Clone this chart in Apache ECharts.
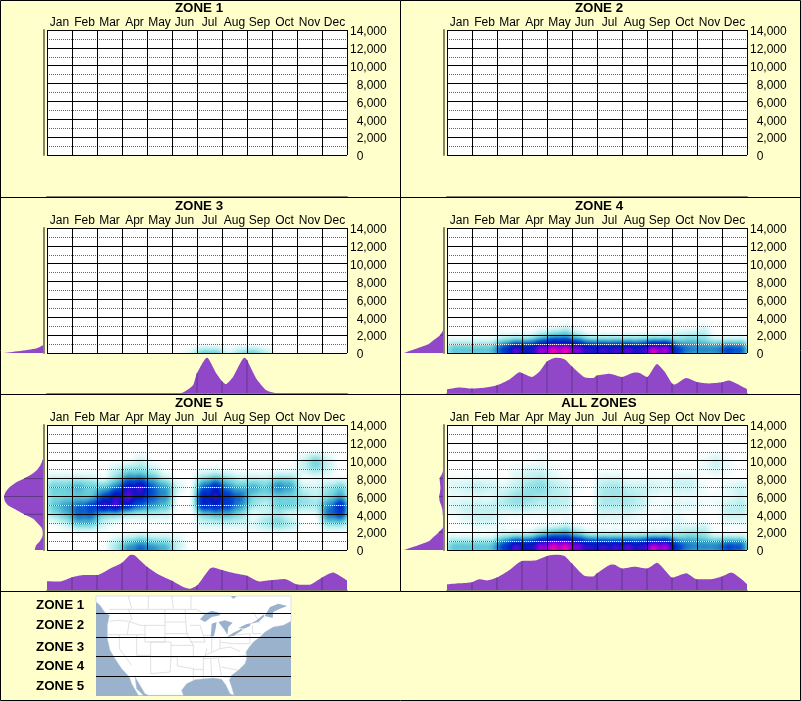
<!DOCTYPE html>
<html><head><meta charset="utf-8">
<style>html,body{margin:0;padding:0;background:#ffffcc}#c{width:801px;height:701px}</style>
<script src="https://cdn.jsdelivr.net/npm/echarts@6/dist/echarts.min.js"></script>
</head><body><div id="c"></div>
<script>
const months=['Jan','Feb','Mar','Apr','May','Jun','Jul','Aug','Sep','Oct','Nov','Dec'];
const elevLevels=[0,500,1000,1500,2000,2500,3000,3500,4000,4500,5000,5500,6000,6500,7000,7500,8000,8500,9000,9500,10000,10500,11000,11500,12000,12500,13000,13500,14000];
const panelNames=['ZONE 1','ZONE 2','ZONE 3','ZONE 4','ZONE 5','ALL ZONES'];
const zoneLabels=['ZONE 1','ZONE 2','ZONE 3','ZONE 4','ZONE 5'];

// bottom marginal curves: [month position, percent of peak]
const zone3Month=[[0,0],[5,0],[5.44,3],[5.84,23],[6,56],[6.4,100],[6.77,56],[7,34],[7.15,26],[7.44,46],[7.9,100],[8,93],[8.37,42],[8.77,9],[9,3],[9.1,2],[9.3,0],[12,0]];
const zone4Month=[[0,12],[.5,17],[1,14],[1.5,16],[2,23],[2.5,39],[2.9,59],[3,57],[3.4,46],[3.7,61],[4,89],[4.37,100],[4.7,95],[5,75],[5.5,45],[5.85,43],[6,50],[6.5,55],[7,46],[7.5,58],[7.7,57],[8,46],[8.4,82],[8.7,61],[9,28],[9.1,25],[9.57,43],[10,32],[10.5,28],[11,31],[11.25,36],[12,12]];
const zone5Month=[[0,26],[.5,25],[1,37],[1.5,43],[2,43],[2.5,60],[3,77],[3.37,100],[3.5,98],[4,66],[4.5,43],[5,27],[5.5,8],[5.7,5],[6,14],[6.5,60],[6.63,64],[7,57],[7.5,48],[8,41],[8.5,25],[9,29],[9.5,32],[10,17],[10.5,16],[11,36],[11.43,50],[12,28]];
const allMonth=[[0,17],[.5,20],[1,23],[1.3,31],[1.6,28],[2,36],[2.5,57],[3,82],[3.5,83],[4,96],[4.37,100],[4.7,96],[5,75],[5.5,41],[5.85,39],[6,48],[6.5,71],[6.67,72],[7,61],[7.5,66],[8,61],[8.4,77],[8.77,52],[9,36],[9.57,48],[10,31],[10.5,31],[11,39],[11.37,50],[12,18]];

// left marginal curves: percent of peak at each elevLevels entry
const zone3Elev=[100,20,0];
const zone4Elev=[100,68,38,24,10,3,1,0];
const zone5Elev=[23,20,10,4,3,6,16,27,50,70,90,98,100,96,87,72,50,30,17,9,4,0];
const allElev=[100,66,37,25,13,3,2,2,3,4,7,11,12,10,9,10,11,5,2,1,0];

// heat tables: half-month columns Jan..Dec, intensity read by eye
const heatElevZone3=[-300];
const heatZone3=[[0,0,0,0,0,0,0,0,0,0,0,1,4,4,1,3,4,2,0,0,0,0,0,0]];
const heatElevZone4=[0,500,1000,1500,2000,2500];
const heatZone4=[
 [3,3,3,3,6,10,7,11,15,15,10,8,9,9,10,8,15,11,6,4,4,4,6,5],
 [2,2,2,2,4,6,6,7,8,8,7,6,6,6,6,6,7,8,4,3,3,3,4,4],
 [1,1,1,1,2,3,3,4,5,5,4,3,3,3,3,3,4,4,2,2,2,2,2,2],
 [0,0,0,0,1,1,1,2,3,3,2,1,1,1,1,1,1,1,1,2,1,0,0,0],
 [0,0,0,0,0,0,0,1,2,2,1,0,0,0,0,0,0,0,1,1,1,0,0,0],
 [0,0,0,0,0,0,0,0,0,1,0,0,0,0,0,0,0,0,0,0,1,0,0,0]];
const heatElevZone5=[0,1000,2000,3000,4000,5000,6000,7000,8000,9000,10000];
const heatZone5=[
 [0,0,0,0,0,2,5,6,5,4,1,0,0,0,0,0,0,0,0,0,0,0,0,0],
 [0,0,0,0,0,1,2,3,2,2,1,0,0,0,0,0,0,0,0,0,0,0,0,0],
 [0,0,0,0,0,0,0,0,0,0,0,0,0,0,0,0,0,0,0,0,0,0,0,0],
 [0,1,3,3,1,0,0,0,0,0,0,0,1,1,1,1,1,2,3,2,0,0,2,2],
 [2,3,5,5,2,2,1,1,1,1,0,0,2,3,3,2,0,1,1,0,0,0,5,6],
 [3,4,5,6,9,9,7,5,4,3,0,0,7,7,6,4,2,1,3,3,2,2,4,7],
 [2,2,2,2,5,8,9,7,5,4,0,0,7,8,6,5,2,2,2,2,2,1,2,3],
 [3,3,4,3,3,4,8,9,5,4,1,0,5,7,4,3,4,3,5,4,1,1,2,3],
 [1,1,1,1,0,2,4,4,3,1,0,0,2,3,2,1,1,1,2,2,0,0,0,0],
 [0,0,0,0,0,1,2,2,1,0,0,0,0,0,0,0,0,0,0,0,1,2,1,0],
 [0,0,0,0,0,0,0,1,0,0,0,0,0,0,0,0,0,0,0,0,1,3,1,0]];
const heatElevAllUpper=[3000,4000,5000,6000,7000,8000,9000,10000];
const heatAllUpper=[
 [0,1,2,2,1,0,0,0,0,0,0,0,1,1,1,1,1,1,2,1,0,0,1,1],
 [1,2,3,3,1,1,1,1,1,1,0,0,2,2,2,1,0,1,1,0,0,0,3,3],
 [2,3,3,3,4,5,4,3,4,3,0,0,4,4,4,3,1,1,2,2,1,1,3,4],
 [1,1,1,1,3,5,5,4,3,3,0,0,4,4,4,3,1,1,1,1,1,1,1,2],
 [2,3,4,3,2,3,5,6,4,3,1,0,4,5,3,3,3,2,3,3,1,0,2,3],
 [1,1,1,1,0,2,3,4,2,1,0,0,2,2,1,1,1,1,2,2,0,0,0,0],
 [0,0,0,0,0,1,2,2,1,0,0,0,0,0,0,0,0,0,0,0,1,2,1,0],
 [0,0,0,0,0,0,0,1,0,0,0,0,0,0,0,0,0,0,0,0,1,3,1,0]];

const panelMonth=[[],[],zone3Month,zone4Month,zone5Month,allMonth];
const panelElev=[[],[],zone3Elev,zone4Elev,zone5Elev,allElev];
const panelHeat=[
 [],[],
 [{el:heatElevZone3,t:heatZone3,w:1}],
 [{el:heatElevZone4,t:heatZone4,w:.85}],
 [{el:heatElevZone5,t:heatZone5,w:1}],
 [{el:heatElevZone4,t:heatZone4,w:.85},{el:heatElevAllUpper,t:heatAllUpper,w:.4}]
];

const PURPLE='#9048c8',DARK='#5f3785',AX='#85856c';
const plotX=[47,447],plotY=[30,228,425],baseY=[196.5,393.5,590.5];
const rectJSON={type:'FeatureCollection',features:[{type:'Feature',properties:{name:'box'},geometry:{type:'Polygon',coordinates:[[[0,0],[12,0],[12,14000],[0,14000],[0,0]]]}}]};
echarts.registerMap('box',rectJSON);

const FONT='"Liberation Sans",Arial,sans-serif';
const opt={animation:false,backgroundColor:'#ffffcc',title:[],grid:[],xAxis:[],yAxis:[],geo:[],series:[],visualMap:[]};
const heatSeries=[];
panelNames.forEach((name,i)=>{
 const col=i%2,row=Math.floor(i/2),px=plotX[col],py=plotY[row],by=baseY[row];
 const g=opt.grid.length;
 opt.title.push({text:name,left:px+152,top:py-28,padding:0,textAlign:'center',
  textStyle:{fontFamily:FONT,fontSize:13.33,fontWeight:'bold',color:'#000'}});
 opt.grid.push({left:px,top:py,width:300,height:125,show:true,backgroundColor:'#fff',borderWidth:0});
 opt.grid.push({left:px-43,top:py,width:40,height:125});
 opt.grid.push({left:px,top:by-36,width:300,height:36});
 opt.grid.push({left:px,top:py+2,width:300,height:125});
 const xi=opt.xAxis.length,yi=opt.yAxis.length;
 // main axes
 opt.xAxis.push({gridIndex:g,type:'category',position:'top',data:months,z:10,boundaryGap:true,
  axisLine:{show:false},axisTick:{show:false},
  axisLabel:{interval:0,margin:1,fontFamily:FONT,fontSize:12,color:'#000',hideOverlap:false},
  splitLine:{show:true,interval:0,lineStyle:{color:'#000',width:1}}});
 opt.yAxis.push({gridIndex:g,type:'value',position:'right',min:0,max:14000,interval:2000,z:10,
  axisLine:{show:false},axisTick:{show:false},axisLabel:{show:false},
  splitLine:{show:true,lineStyle:{color:'#000',width:1}},
  minorTick:{show:false,splitNumber:2},
  minorSplitLine:{show:true,lineStyle:{color:'#666',width:1,type:[1,1]}}});
 opt.yAxis.push({gridIndex:g,type:'value',position:'right',min:0,max:14000,interval:2000,z:9,
  axisLine:{show:false},axisTick:{show:false},axisLabel:{show:false},splitLine:{show:false},
  minorTick:{show:false,splitNumber:2},
  minorSplitLine:{show:true,lineStyle:{color:'#fff',width:1}}});
 // left marginal axes
 opt.xAxis.push({gridIndex:g+1,type:'value',inverse:true,min:0,max:100,show:false,splitLine:{show:false}});
 opt.yAxis.push({gridIndex:g+1,type:'category',position:'right',data:elevLevels.map(String),boundaryGap:false,z:6,
  axisLine:{show:true,onZero:false,lineStyle:{color:AX,width:2}},axisTick:{show:false},axisLabel:{show:false},splitLine:{show:false}});
 // bottom marginal axes
 opt.xAxis.push({gridIndex:g+2,type:'value',min:0,max:12,z:6,
  axisLine:{show:true,onZero:true,lineStyle:{color:AX,width:2}},axisTick:{show:false},axisLabel:{show:false},splitLine:{show:false}});
 opt.yAxis.push({gridIndex:g+2,type:'value',min:0,max:100,show:false,splitLine:{show:false}});
 // tick-label axis
 opt.xAxis.push({gridIndex:g+3,type:'value',show:false,min:0,max:12,splitLine:{show:false}});
 opt.yAxis.push({gridIndex:g+3,type:'value',position:'right',min:0,max:14000,interval:2000,z:10,
  axisLine:{show:false},axisTick:{show:false},splitLine:{show:false},
  axisLabel:{margin:3,align:'left',fontFamily:FONT,fontSize:12,color:'#000',showMinLabel:true,showMaxLabel:true,
   formatter:v=>(v<10000?'\u2007':'')+v.toLocaleString('en-US')}});

 // heat via geo so the blur comes from the library
 const gi=opt.geo.length;
 opt.geo.push({map:'box',left:px,top:py,width:300,height:125,aspectScale:2800,silent:true,z:1,
  itemStyle:{areaColor:'rgba(0,0,0,0)',borderWidth:0},label:{show:false},emphasis:{disabled:true}});
 const pts=[];
 panelHeat[i].forEach(h=>h.t.forEach((r,ri)=>r.forEach((v,c)=>{if(v>0)pts.push([(c+.5)/2,h.el[ri],v*h.w]);})));
 if(pts.length){heatSeries.push(opt.series.length);
  opt.series.push({type:'heatmap',coordinateSystem:'geo',geoIndex:gi,data:pts,pointSize:7,blurSize:9,minOpacity:1,maxOpacity:1,z:5,silent:true});}

 const m=panelMonth[i];
 if(m.length){
  opt.series.push({type:'line',xAxisIndex:xi+2,yAxisIndex:yi+3,data:m,smooth:.2,showSymbol:false,z:2,silent:true,
   lineStyle:{width:0},areaStyle:{color:PURPLE,opacity:1}});
  opt.series.push({type:'bar',xAxisIndex:xi+2,yAxisIndex:yi+3,barWidth:1,z:3,silent:true,itemStyle:{color:DARK},
   data:m.filter(p=>Number.isInteger(p[0])&&p[0]>0&&p[0]<12)});
 }
 const e=panelElev[i];
 if(e.length){
  const full=elevLevels.map((_,k)=>k<e.length?e[k]:0);
  opt.series.push({type:'line',xAxisIndex:xi+1,yAxisIndex:yi+2,data:full,smooth:.2,showSymbol:false,z:2,silent:true,
   lineStyle:{width:0},areaStyle:{color:PURPLE,opacity:1}});
  opt.series.push({type:'bar',xAxisIndex:xi+1,yAxisIndex:yi+2,barWidth:1,z:3,silent:true,itemStyle:{color:DARK},
   data:full.map((v,k)=>(elevLevels[k]%2000===0&&k>0&&v>0)?v:null)});
 }
});
opt.visualMap=[{type:'continuous',show:false,min:0,max:11,seriesIndex:heatSeries,calculable:false,
 inRange:{color:['#ffffff','#bdf0f0','#70d4dc','#2f98c8','#0048d0','#0018c0','#7000e0','#ff00b0','#ff1060']}}];

// legend map, drawn in a 3x sketch space and scaled down
const landShape=[[18,12],[422,12],[430,20],[440,12],[603,12],[603,88],[580,100],[550,105],[525,120],[510,135],[490,150],[478,165],[468,180],[470,200],[465,215],[445,235],[425,250],[418,265],[425,285],[432,310],[420,305],[408,280],[395,262],[370,258],[345,260],[315,263],[290,275],[275,295],[280,310],[175,310],[165,305],[150,280],[135,255],[140,290],[160,310],[145,310],[125,275],[118,255],[95,230],[75,200],[60,175],[52,140],[52,100],[58,70],[45,62],[30,40],[18,30]];
const lakes=[
 [[330,82],[345,65],[365,56],[388,62],[390,70],[365,75],[345,90]],
 [[365,95],[380,90],[376,115],[372,132],[362,135],[364,110]],
 [[385,90],[405,85],[428,92],[415,105],[412,128],[402,112]],
 [[410,135],[430,122],[455,110],[458,114],[430,132]],
 [[445,108],[470,96],[482,94],[480,102],[462,110]],
 [[480,96],[500,85],[520,68],[524,72],[505,90]],
 [[524,72],[540,45],[565,35],[592,42],[570,50],[550,60],[548,78]]];
const stateLines=[
 [[58,52],[320,52],[335,62],[355,65]],[[115,12],[125,50]],[[175,12],[175,50]],[[245,12],[250,50]],[[303,12],[303,50]],
 [[58,88],[85,85],[115,88]],[[115,52],[125,80],[118,88],[112,128]],[[52,128],[165,128]],[[88,128],[88,170],[125,220]],
 [[140,128],[140,190]],[[118,88],[150,100],[165,100]],[[165,100],[225,100],[225,150],[165,150],[165,100]],
 [[225,52],[225,100]],[[225,90],[285,90]],[[225,125],[295,125]],[[285,52],[290,125],[310,160]],
 [[182,150],[243,150],[243,195],[182,195],[182,150]],[[140,190],[182,190]],[[182,195],[182,245]],[[182,245],[240,240],[243,195]],
 [[243,160],[310,160],[310,195],[243,195]],[[243,195],[262,195],[262,222],[310,230],[310,265]],[[310,195],[345,195],[350,170]],
 [[300,150],[345,150],[340,130],[372,130]],[[340,200],[340,260]],[[362,200],[365,255]],[[385,200],[395,255]],
 [[345,190],[340,200],[425,195],[470,190]],[[345,190],[390,170],[420,165],[450,178]],[[365,135],[365,180]],[[390,140],[390,170]],
 [[390,150],[425,155],[480,155],[480,125],[425,130]],[[488,100],[488,125],[515,125]],[[310,232],[340,232]],[[395,225],[445,235]],
 [[400,255],[420,255]],[[300,100],[330,100],[340,130]],[[490,60],[510,95]]];
const g=[];
g.push({type:'rect',shape:{x:96,y:596,width:195,height:100},style:{fill:'#9ab2cc'},silent:true});
g.push({type:'group',x:90,y:592,scaleX:1/3,scaleY:1/3,silent:true,children:[
 {type:'polygon',shape:{points:landShape},style:{fill:'#fff',stroke:'#b8c6d8',lineWidth:1.5}},
 ...stateLines.map(p=>({type:'polyline',shape:{points:p},style:{fill:null,stroke:'#d4d4d4',lineWidth:2.2}})),
 ...lakes.map(p=>({type:'polygon',shape:{points:p},style:{fill:'#9ab2cc'}}))
]});
[613.5,637.5,656.5,676.5].forEach(y=>g.push({type:'line',silent:true,shape:{x1:96,y1:y,x2:291,y2:y},style:{stroke:'#000',lineWidth:1}}));
[605,625,647.5,666.5,686.5].forEach((y,i)=>g.push({type:'text',silent:true,x:36,y:y,style:{text:zoneLabels[i],fontFamily:FONT,fontSize:13.33,fontWeight:'bold',fill:'#000',verticalAlign:'middle'}}));
// panel frame
[[0.5,0.5,800.5,0.5],[0.5,700.5,800.5,700.5],[0.5,0.5,0.5,700.5],[800.5,0.5,800.5,700.5],
 [0.5,197.5,800.5,197.5],[0.5,394.5,800.5,394.5],[0.5,591.5,800.5,591.5],[400.5,0.5,400.5,591.5]]
 .forEach(l=>g.push({type:'line',silent:true,z:20,shape:{x1:l[0],y1:l[1],x2:l[2],y2:l[3]},style:{stroke:'#000',lineWidth:1}}));
opt.graphic={elements:g};
echarts.init(document.getElementById('c'),null,{renderer:'canvas'}).setOption(opt);
</script></body></html>
